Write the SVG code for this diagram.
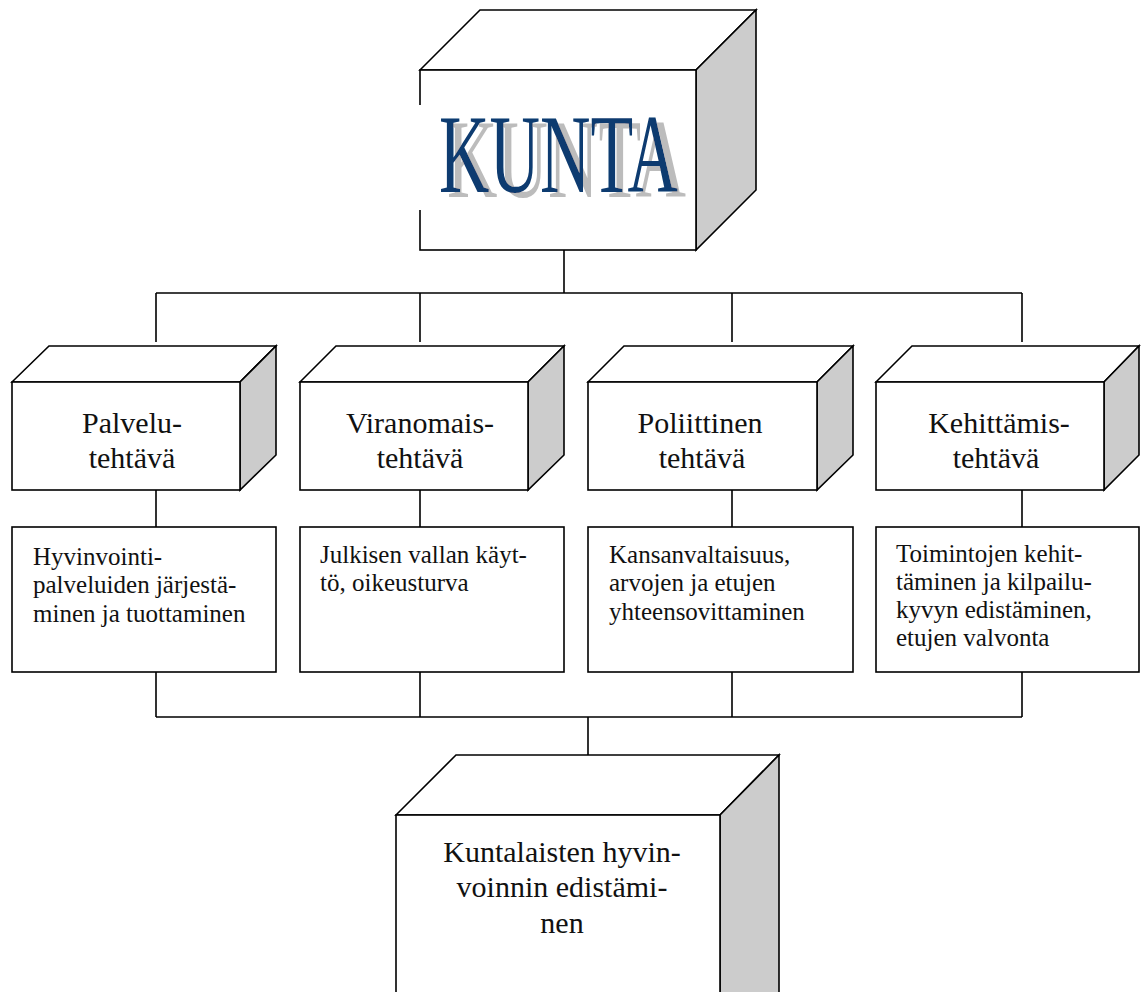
<svg xmlns="http://www.w3.org/2000/svg" width="1148" height="992" viewBox="0 0 1148 992">
<style>
.ln{fill:none;stroke:#000;stroke-width:1.6}
.fr{fill:#fff;stroke:#000;stroke-width:1.6}
.tp{fill:#fff;stroke:#000;stroke-width:1.6;stroke-linejoin:miter}
.sd{fill:#cccccc;stroke:#000;stroke-width:1.6}
.t30{font-family:"Liberation Serif","Times New Roman",serif;font-size:30px;fill:#111;text-anchor:middle}
.t25{font-family:"Liberation Serif","Times New Roman",serif;font-size:25px;fill:#111}
</style>
<defs>
<filter id="sh" x="-10%" y="-10%" width="130%" height="130%">
<feOffset in="SourceAlpha" dx="8" dy="5" result="o"/>
<feFlood flood-color="#bcbcbc"/>
<feComposite in2="o" operator="in" result="s"/>
<feMerge><feMergeNode in="s"/><feMergeNode in="SourceGraphic"/></feMerge>
</filter>
</defs>
<rect width="1148" height="992" fill="#fff"/>
<g id="connectors" class="ln">
<path d="M564 250V293M156 293H1022M156 293V342M420 293V342M732 293V342M1022 293V342"/>
<path d="M156 490V527M420 490V527M732 490V527M1022 490V527"/>
<path d="M156 672V717M420 672V717M732 672V717M1022 672V717M156 717H1022M588 717V755"/>
</g>
<g id="kunta">
<polygon class="tp" points="420,70 480,10 756,10 696,70"/>
<polygon class="sd" points="696,70 756,10 756,190 696,250"/>
<rect class="fr" x="420" y="70" width="276" height="180"/>
<rect x="418" y="105" width="6" height="105" fill="#fff"/>
<text x="439" y="192" font-family="Liberation Serif,serif" font-size="112" textLength="239" lengthAdjust="spacingAndGlyphs" fill="#0b3a6f" filter="url(#sh)">KUNTA</text>
</g>
<g id="palvelu">
<polygon class="tp" points="12,382 49,346 276,346 240,382"/>
<polygon class="sd" points="240,382 276,346 276,455 240,490"/>
<rect class="fr" x="12" y="382" width="228" height="108"/>
<text class="t30" x="132" y="433">Palvelu-</text>
<text class="t30" x="132" y="468">tehtävä</text>
</g>
<g id="viranomais">
<polygon class="tp" points="300,382 336,346 564,346 528,382"/>
<polygon class="sd" points="528,382 564,346 564,455 528,490"/>
<rect class="fr" x="300" y="382" width="228" height="108"/>
<text class="t30" x="420" y="433">Viranomais-</text>
<text class="t30" x="420" y="468">tehtävä</text>
</g>
<g id="poliittinen">
<polygon class="tp" points="588,382 624,346 853,346 817,382"/>
<polygon class="sd" points="817,382 853,346 853,455 817,490"/>
<rect class="fr" x="588" y="382" width="229" height="108"/>
<text class="t30" x="700" y="433">Poliittinen</text>
<text class="t30" x="702" y="468">tehtävä</text>
</g>
<g id="kehittamis">
<polygon class="tp" points="876,382 912,346 1139,346 1104,382"/>
<polygon class="sd" points="1104,382 1139,346 1139,455 1104,490"/>
<rect class="fr" x="876" y="382" width="228" height="108"/>
<text class="t30" x="999" y="433">Kehittämis-</text>
<text class="t30" x="996" y="468">tehtävä</text>
</g>
<g id="desc1">
<rect class="fr" x="12" y="527" width="264" height="145"/>
<text class="t25" x="33" y="565">Hyvinvointi-</text>
<text class="t25" x="33" y="593">palveluiden järjestä-</text>
<text class="t25" x="33" y="622">minen ja tuottaminen</text>
</g>
<g id="desc2">
<rect class="fr" x="300" y="527" width="264" height="145"/>
<text class="t25" x="320" y="563">Julkisen vallan käyt-</text>
<text class="t25" x="320" y="591">tö, oikeusturva</text>
</g>
<g id="desc3">
<rect class="fr" x="588" y="527" width="265" height="145"/>
<text class="t25" x="609" y="563">Kansanvaltaisuus,</text>
<text class="t25" x="609" y="591">arvojen ja etujen</text>
<text class="t25" x="609" y="620">yhteensovittaminen</text>
</g>
<g id="desc4">
<rect class="fr" x="876" y="527" width="263" height="145"/>
<text class="t25" x="896" y="562">Toimintojen kehit-</text>
<text class="t25" x="896" y="590">täminen ja kilpailu-</text>
<text class="t25" x="896" y="618">kyvyn edistäminen,</text>
<text class="t25" x="896" y="646">etujen valvonta</text>
</g>
<g id="hyvinvointi">
<polygon class="tp" points="396,815 456,755 779,755 720,815"/>
<polygon class="sd" points="720,815 779,755 779,1000 720,1060"/>
<rect class="fr" x="396" y="815" width="324" height="200"/>
<text class="t30" x="562" y="862">Kuntalaisten hyvin-</text>
<text class="t30" x="562" y="897">voinnin edistämi-</text>
<text class="t30" x="562" y="933">nen</text>
</g>
</svg>
